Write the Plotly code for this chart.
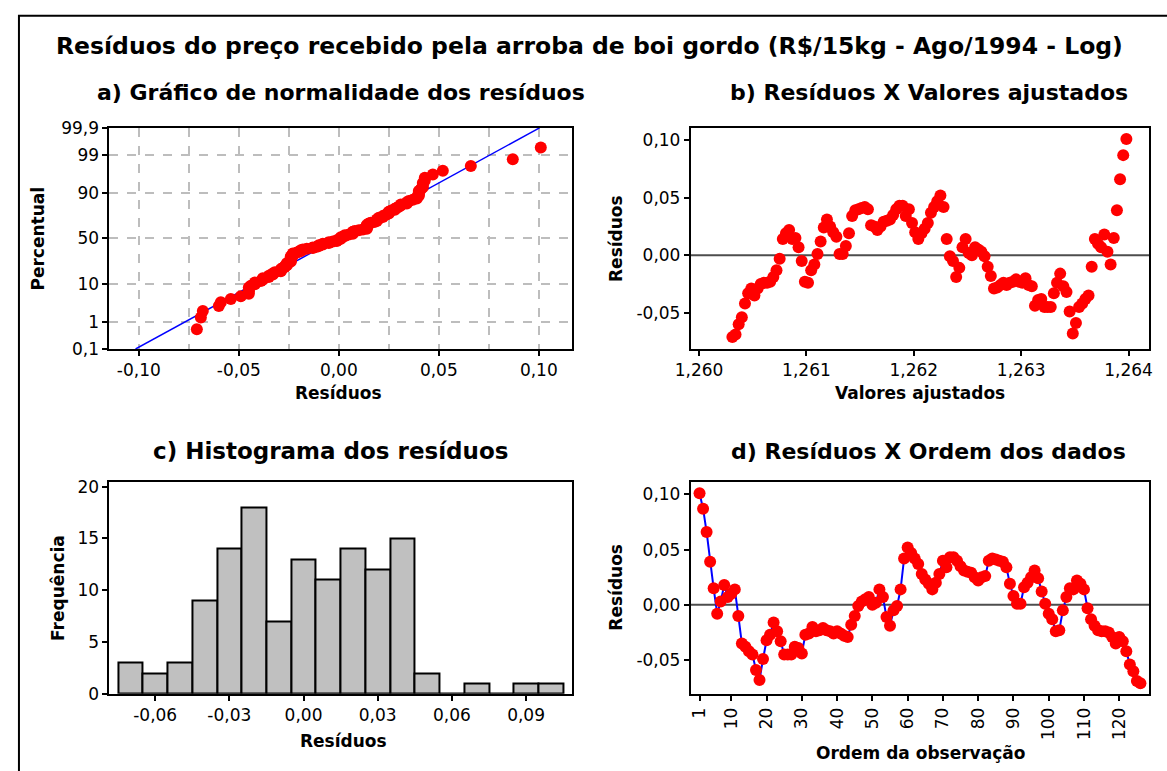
import plotly.graph_objects as go
from statistics import NormalDist, mean, stdev

W, H = 1167, 771

# Residuals in observation order (1..126)
order_residuals = [
    0.101, 0.087, 0.066, 0.039, 0.015, -0.008, 0.003, 0.018, 0.007, 0.010,
    0.014, -0.010, -0.035, -0.038, -0.042, -0.045, -0.059, -0.068, -0.049, -0.032,
    -0.027, -0.016, -0.024, -0.033, -0.045, -0.045, -0.045, -0.038, -0.039, -0.044,
    -0.027, -0.026, -0.020, -0.024, -0.023, -0.021, -0.023, -0.024, -0.026, -0.024,
    -0.026, -0.028, -0.029, -0.018, -0.010, -0.001, 0.003, 0.005, 0.007, 0.000,
    0.002, 0.014, 0.007, -0.011, -0.019, -0.005, -0.001, 0.014, 0.042, 0.052,
    0.047, 0.042, 0.037, 0.028, 0.023, 0.019, 0.014, 0.020, 0.028, 0.040,
    0.034, 0.043, 0.043, 0.040, 0.035, 0.031, 0.030, 0.029, 0.025, 0.022,
    0.025, 0.026, 0.040, 0.042, 0.041, 0.040, 0.039, 0.034, 0.019, 0.008,
    0.001, 0.001, 0.016, 0.020, 0.025, 0.031, 0.024, 0.012, 0.001, -0.008,
    -0.013, -0.024, -0.023, -0.005, 0.007, 0.015, 0.014, 0.022, 0.019, 0.014,
    -0.003, -0.013, -0.019, -0.023, -0.024, -0.024, -0.025, -0.029, -0.035, -0.029,
    -0.033, -0.042, -0.054, -0.060, -0.069, -0.071,
]

# Linear trend model (log price): fitted value of observation 1 and slope per observation
trend_intercept = 1.26398
trend_slope = -0.00002936

# Histogram (bin centres and counts)
hist_centers = [-0.07, -0.06, -0.05, -0.04, -0.03, -0.02, -0.01, 0.00, 0.01,
                0.02, 0.03, 0.04, 0.05, 0.06, 0.07, 0.08, 0.09, 0.10]
hist_counts = [3, 2, 3, 9, 14, 18, 7, 13, 11, 14, 12, 15, 2, 0, 1, 0, 1, 1]

# Probability axis ticks
prob_ticks = [0.1, 1, 10, 50, 90, 99, 99.9]
prob_labels = ["0,1", "1", "10", "50", "90", "99", "99,9"]

nd = NormalDist()
n = len(order_residuals)
obs = list(range(1, n + 1))
fitted = [trend_intercept + trend_slope * (i - 1) for i in obs]
sorted_res = sorted(order_residuals)
zq = [nd.inv_cdf((i - 0.3) / (n + 0.4)) for i in range(1, n + 1)]
mu, sd = mean(order_residuals), stdev(order_residuals)
z_lo, z_hi = nd.inv_cdf(0.001), nd.inv_cdf(0.999)

RED = "#FF0000"
BLUE = "#0000FF"
TICKFONT = dict(family="DejaVu Sans", size=17, color="black")
MS = 12

# panel pixel boxes (left, right, top, bottom)
LX = (95, 565)
RX = (686, 1152)
TY = (121, 348)
BY = (485, 702)


def xd(a, b):
    return [a / W, b / W]


def yd(top, bottom):
    return [1 - bottom / H, 1 - top / H]


fig = go.Figure()

# a) normal probability plot
fig.add_trace(go.Scatter(x=[mu + sd * z_lo, mu + sd * z_hi], y=[z_lo, z_hi], mode="lines",
                         line=dict(color=BLUE, width=1.5), xaxis="x", yaxis="y", showlegend=False))
fig.add_trace(go.Scatter(x=sorted_res, y=zq, mode="markers",
                         marker=dict(color=RED, size=MS), xaxis="x", yaxis="y", showlegend=False))

# b) residuals vs fitted
fig.add_trace(go.Scatter(x=fitted, y=order_residuals, mode="markers",
                         marker=dict(color=RED, size=MS), xaxis="x2", yaxis="y2", showlegend=False))

# c) histogram
fig.add_trace(go.Bar(x=hist_centers, y=hist_counts, width=0.01,
                     marker=dict(color="#C0C0C0", line=dict(color="black", width=2)),
                     xaxis="x3", yaxis="y3", showlegend=False))

# d) residuals vs order
fig.add_trace(go.Scatter(x=obs, y=order_residuals, mode="lines+markers",
                         line=dict(color=BLUE, width=2),
                         marker=dict(color=RED, size=MS), xaxis="x4", yaxis="y4", showlegend=False))

box = dict(showline=True, mirror=True, linecolor="black", linewidth=2,
           ticks="outside", ticklen=5, tickwidth=1.5, tickcolor="black",
           tickfont=TICKFONT, showgrid=False, zeroline=False)
box_nogrid = {k: v for k, v in box.items() if k != "showgrid"}

res_vals = [-0.05, 0.0, 0.05, 0.10]
res_text = ["-0,05", "0,00", "0,05", "0,10"]

fig.update_layout(
    width=W, height=H, margin=dict(l=0, r=0, t=0, b=0),
    plot_bgcolor="white", paper_bgcolor="white",
    bargap=0,
    xaxis=dict(domain=xd(*LX), anchor="y", range=[-0.1147, 0.1165],
               tickvals=[-0.10, -0.05, 0.0, 0.05, 0.10],
               ticktext=["-0,10", "-0,05", "0,00", "0,05", "0,10"],
               showgrid=True, gridcolor="#BDBDBD", gridwidth=1.5, griddash="dash",
               minor=dict(tickvals=[-0.075, -0.025, 0.025, 0.075], showgrid=True,
                          gridcolor="#BDBDBD", gridwidth=1.5, griddash="dash", ticks=""),
               **box_nogrid),
    yaxis=dict(domain=yd(*TY), anchor="x", range=[z_lo, z_hi],
               tickvals=[nd.inv_cdf(p / 100) for p in prob_ticks], ticktext=prob_labels,
               showgrid=True, gridcolor="#BDBDBD", gridwidth=1.5, griddash="dash",
               **box_nogrid),
    xaxis2=dict(domain=xd(*RX), anchor="y2", range=[1.259923, 1.264193],
                tickvals=[1.260, 1.261, 1.262, 1.263, 1.264],
                ticktext=["1,260", "1,261", "1,262", "1,263", "1,264"], **box),
    yaxis2=dict(domain=yd(*TY), anchor="x2", range=[-0.0815, 0.1107],
                tickvals=res_vals, ticktext=res_text, **box),
    xaxis3=dict(domain=xd(*LX), anchor="y3", range=[-0.0785, 0.1085],
                tickvals=[-0.06, -0.03, 0.0, 0.03, 0.06, 0.09],
                ticktext=["-0,06", "-0,03", "0,00", "0,03", "0,06", "0,09"], **box),
    yaxis3=dict(domain=yd(*BY), anchor="x3", range=[0, 20.4],
                tickvals=[0, 5, 10, 15, 20], **box),
    xaxis4=dict(domain=xd(*RX), anchor="y4", range=[-1.47, 128.5],
                tickvals=[1] + list(range(10, 121, 10)), tickangle=-90, **box),
    yaxis4=dict(domain=yd(*BY), anchor="x4", range=[-0.0805, 0.1108],
                tickvals=res_vals, ticktext=res_text, **box),
)

# zero reference lines
for xr, yr in (("x2", "y2"), ("x4", "y4")):
    fig.add_shape(type="line", xref=f"{xr} domain", yref=yr, x0=0, x1=1, y0=0, y1=0,
                  line=dict(color="#4D4D4D", width=2), layer="below")

# outer frame
fig.add_shape(type="rect", xref="paper", yref="paper", x0=3 / W, x1=1.02, y0=-0.02, y1=1 - 6 / H,
              line=dict(color="black", width=2), fillcolor="rgba(0,0,0,0)")


def label(text, x, y, size, angle=0):
    fig.add_annotation(text=f"<b>{text}</b>", x=x / W, y=1 - y / H, xref="paper", yref="paper",
                       showarrow=False, textangle=angle, xanchor="center", yanchor="middle",
                       font=dict(family="DejaVu Sans", size=size, color="black"))


label("Resíduos do preço recebido pela arroba de boi gordo (R$/15kg - Ago/1994 - Log)", 583, 37, 23.5)
label("a) Gráfico de normalidade dos resíduos", 330, 85, 22)
label("b) Resíduos X Valores ajustados", 928, 85, 22)
label("c) Histograma dos resíduos", 320, 453, 23)
label("d) Resíduos X Ordem dos dados", 928, 453, 22)

label("Resíduos", 328, 393, 17)
label("Percentual", 22, 235, 17, -90)
label("Valores ajustados", 919, 393, 17)
label("Resíduos", 610, 235, 17, -90)
label("Resíduos", 333, 750, 17)
label("Frequência", 42, 593, 17, -90)
label("Ordem da observação", 919, 763, 17)
label("Resíduos", 610, 593, 17, -90)

fig.write_html("out.html", config={"displayModeBar": False},
               post_script="document.body.style.margin='0px';document.body.style.overflow='hidden';")
